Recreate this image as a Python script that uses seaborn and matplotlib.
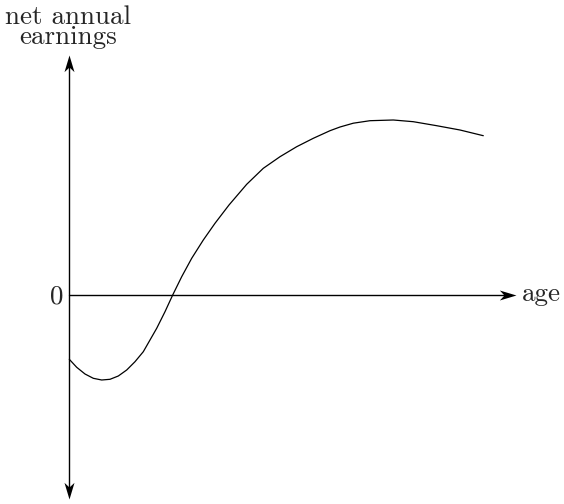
import numpy as np
import pandas as pd
import matplotlib
matplotlib.use("Agg")
import matplotlib.pyplot as plt
from matplotlib.path import Path
import seaborn as sns

# values (age in arbitrary units, earnings relative to 0)
age = [0, 0.74, 1.57, 2.40, 3.24, 4.07, 4.90, 5.74, 6.57, 7.40, 8.74, 9.57,
       10.34, 11.24, 12.24, 13.40, 14.57, 15.97, 17.74, 19.40, 21.07, 22.74,
       24.40, 26.07, 27.07, 28.40, 30.07, 32.40, 34.40, 36.74, 39.07, 41.40]
earnings = [-6.48, -7.28, -7.95, -8.38, -8.55, -8.48, -8.15, -7.55, -6.72,
            -5.72, -3.38, -1.72, -0.05, 1.78, 3.62, 5.45, 7.12, 8.95, 11.02,
            12.62, 13.78, 14.78, 15.62, 16.38, 16.75, 17.13, 17.38, 17.45,
            17.28, 16.88, 16.45, 15.88]

x_label = "age"
y_label = "net annual\nearnings"
zero_label = "0"

df = pd.DataFrame({"age": age, "earnings": earnings})

sns.set_style("white")
plt.rcParams["font.family"] = ["cmr10", "DejaVu Serif"]

fig = plt.figure(figsize=(5.64, 5.04), dpi=100)
ax = fig.add_axes([0, 0, 1, 1])
ax.set_xlim(-6.93, 49.47)
ax.set_ylim(-20.95, 29.45)
ax.axis("off")

sns.lineplot(data=df, x="age", y="earnings", ax=ax, color="black", lw=0.9,
             sort=False, legend=False)

# stealth-like arrow heads, tip at the origin of each path
codes = [Path.MOVETO, Path.LINETO, Path.LINETO, Path.LINETO, Path.CLOSEPOLY]
head_right = Path([(0, 0), (-1, 0.3), (-0.72, 0), (-1, -0.3), (0, 0)], codes)
head_up = Path([(0, 0), (-0.3, -1), (0, -0.72), (0.3, -1), (0, 0)], codes)
head_down = Path([(0, 0), (-0.3, 1), (0, 0.72), (0.3, 1), (0, 0)], codes)

x_end, y_top, y_bot = 44.67, 23.95, -20.45
ax.plot([0, x_end - 1.0], [0, 0], color="black", lw=1.0)
ax.plot([0, 0], [y_bot + 1.0, y_top - 1.0], color="black", lw=1.0)
ax.plot([x_end], [0], marker=head_right, ms=24, color="black", mew=0)
ax.plot([0], [y_top], marker=head_up, ms=24, color="black", mew=0)
ax.plot([0], [y_bot], marker=head_down, ms=24, color="black", mew=0)

ax.text(45.3, -0.6, x_label, fontsize=19.5, ha="left", va="baseline")
ax.text(-0.6, -0.2, zero_label, fontsize=19.5, ha="right", va="center")
ax.text(-0.1, 28.9, y_label, fontsize=19.5, ha="center", va="top",
        linespacing=0.8)

fig.savefig("out.png", dpi=100)
